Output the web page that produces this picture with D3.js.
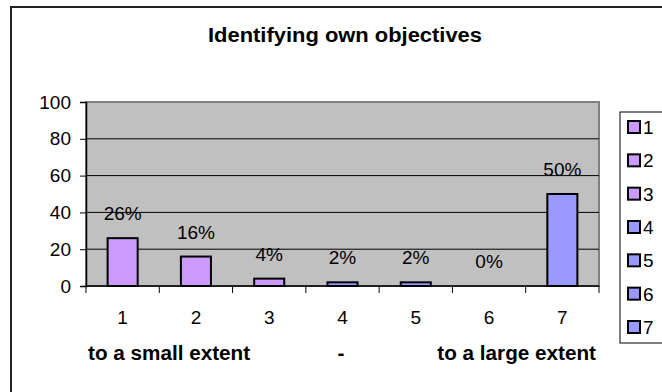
<!DOCTYPE html>
<html>
<head>
<meta charset="utf-8">
<script src="https://cdn.jsdelivr.net/npm/d3@7"></script>
<style>
  html, body { margin: 0; padding: 0; background: #fff; }
  svg { display: block; font-family: "Liberation Sans", Arial, sans-serif; }
</style>
</head>
<body>
<svg id="chart" width="662" height="392"></svg>
<script>
// Survey answers on a 1–7 scale, percentage of respondents per answer
const categories = ["1", "2", "3", "4", "5", "6", "7"];
const values = [26, 16, 4, 2, 2, 0, 50];
const barColors = ["#CC99FF", "#CC99FF", "#CC99FF", "#9999FF", "#9999FF", "#9999FF", "#9999FF"];
const yTicks = [0, 20, 40, 60, 80, 100];
const scaleNotes = ["to a small extent", "-", "to a large extent"];
const title = "Identifying own objectives";

const svg = d3.select("#chart");

// outer chart frame (extends past the right and bottom edges)
svg.append("rect")
  .attr("x", 11).attr("y", 7)
  .attr("width", 700).attr("height", 420)
  .attr("fill", "#fff").attr("stroke", "#222").attr("stroke-width", 2);

const plot = { left: 86, right: 599, top: 102, bottom: 286 };

const x = d3.scaleBand().domain(categories).range([plot.left, plot.right]).paddingInner(0).paddingOuter(0);
const y = d3.scaleLinear().domain([0, 100]).range([plot.bottom, plot.top]);
const barW = x.bandwidth() * 0.41;

// title
svg.append("text")
  .attr("x", 345).attr("y", 42)
  .attr("text-anchor", "middle")
  .attr("font-weight", "bold").attr("font-size", 20)
  .attr("textLength", 274).attr("lengthAdjust", "spacingAndGlyphs")
  .attr("fill", "#000")
  .text(title);

// plot background
svg.append("rect")
  .attr("x", plot.left).attr("y", plot.top)
  .attr("width", plot.right - plot.left).attr("height", plot.bottom - plot.top)
  .attr("fill", "#C0C0C0").attr("stroke", "#808080").attr("stroke-width", 2);

// horizontal gridlines
svg.append("g")
  .selectAll("line")
  .data(yTicks.filter(t => t > 0 && t < 100))
  .join("line")
  .attr("x1", plot.left).attr("x2", plot.right)
  .attr("y1", d => y(d)).attr("y2", d => y(d))
  .attr("stroke", "#000").attr("stroke-width", 1);

// y axis
const yAxis = svg.append("g")
  .attr("transform", `translate(${plot.left},0)`)
  .call(d3.axisLeft(y).tickValues(yTicks).tickSize(6).tickPadding(9));
yAxis.select(".domain").attr("stroke", "#000").attr("stroke-width", 1.5);
yAxis.selectAll(".tick line").attr("stroke", "#000");
yAxis.selectAll("text").attr("font-size", 19).attr("fill", "#000")
  .attr("font-family", "Liberation Sans, Arial, sans-serif");

// bars
svg.append("g")
  .selectAll("rect")
  .data(values)
  .join("rect")
  .attr("x", (d, i) => x(categories[i]) + (x.bandwidth() - barW) / 2)
  .attr("y", d => y(d))
  .attr("width", barW)
  .attr("height", d => y(0) - y(d))
  .attr("fill", (d, i) => barColors[i])
  .attr("stroke", "#000").attr("stroke-width", 2)
  .attr("display", d => d > 0 ? null : "none");

// value labels
svg.append("g")
  .selectAll("text")
  .data(values)
  .join("text")
  .attr("x", (d, i) => x(categories[i]) + x.bandwidth() / 2)
  .attr("y", d => y(d) - 18)
  .attr("text-anchor", "middle")
  .attr("font-size", 19).attr("fill", "#000")
  .text(d => d + "%");

// x axis with ticks at band boundaries
const xAxisG = svg.append("g").attr("transform", `translate(0,${plot.bottom})`);
xAxisG.append("line")
  .attr("x1", plot.left).attr("x2", plot.right)
  .attr("stroke", "#000").attr("stroke-width", 1.5);
const boundaries = categories.map(c => x(c)).concat([x(categories[categories.length - 1]) + x.bandwidth()]);
xAxisG.selectAll(".bt")
  .data(boundaries)
  .join("line")
  .attr("class", "bt")
  .attr("x1", d => d).attr("x2", d => d)
  .attr("y1", 0).attr("y2", 7)
  .attr("stroke", "#000");
xAxisG.selectAll(".cat")
  .data(categories)
  .join("text")
  .attr("class", "cat")
  .attr("x", d => x(d) + x.bandwidth() / 2)
  .attr("y", 38)
  .attr("text-anchor", "middle")
  .attr("font-size", 19).attr("fill", "#000")
  .text(d => d);

// scale end descriptions
const notePos = [
  { x: plot.left + 2, anchor: "start" },
  { x: 341, anchor: "middle" },
  { x: plot.right - 3, anchor: "end" }
];
svg.append("g")
  .selectAll("text")
  .data(scaleNotes)
  .join("text")
  .attr("x", (d, i) => notePos[i].x)
  .attr("y", 360)
  .attr("text-anchor", (d, i) => notePos[i].anchor)
  .attr("font-size", 20.7).attr("font-weight", "bold").attr("fill", "#000")
  .text(d => d);

// legend
const legend = svg.append("g");
legend.append("rect")
  .attr("x", 620).attr("y", 112)
  .attr("width", 60).attr("height", 231)
  .attr("fill", "#fff").attr("stroke", "#000").attr("stroke-width", 1);
const ly = d3.scalePoint().domain(categories).range([127, 327]);
const items = legend.selectAll(".item")
  .data(categories)
  .join("g")
  .attr("class", "item")
  .attr("transform", d => `translate(628,${ly(d)})`);
items.append("rect")
  .attr("x", 0).attr("y", -6)
  .attr("width", 12).attr("height", 12)
  .attr("fill", (d, i) => barColors[i])
  .attr("stroke", "#000").attr("stroke-width", 2);
items.append("text")
  .attr("x", 15).attr("y", 7)
  .attr("font-size", 19).attr("fill", "#000")
  .text(d => d);
</script>
</body>
</html>
